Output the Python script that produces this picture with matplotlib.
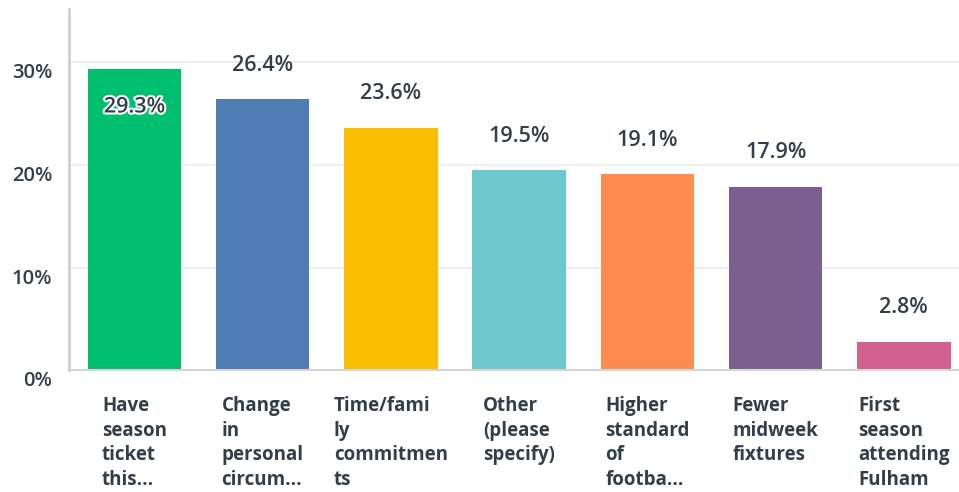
import matplotlib.pyplot as plt
import matplotlib.patheffects as pe
import matplotlib.transforms as mtransforms
import numpy as np

categories = ["Have\nseason\nticket\nthis...", "Change\nin\npersonal\ncircum...",
              "Time/fami\nly\ncommitmen\nts", "Other\n(please\nspecify)",
              "Higher\nstandard\nof\nfootba...", "Fewer\nmidweek\nfixtures",
              "First\nseason\nattending\nFulham"]
values = [29.3, 26.4, 23.6, 19.5, 19.1, 17.9, 2.8]
colors = ["#00BF6F", "#507CB6", "#F9BE00", "#6BC8CD", "#FF8B4F", "#7D5E90", "#D25F90"]
yticks = [0, 10, 20, 30]

text_col = "#333E48"
plt.rcParams['font.family'] = ['Open Sans', 'DejaVu Sans']

fig = plt.figure(figsize=(9.59, 4.92), dpi=100)
ax = fig.add_axes([0.072, 0.247, 0.928, 0.735])

x = np.arange(len(values))
ax.bar(x, values, width=0.73, color=colors, zorder=2)

ax.set_xlim(-0.51, 6.43)
ax.set_ylim(0, 35.2)
ax.set_yticks(yticks)
ax.set_yticklabels([f"{t}%" for t in yticks], fontsize=14.5, color=text_col,
                   fontweight="semibold")
ax.tick_params(axis='y', length=0, pad=12)
# tick labels sit a little below their gridlines in the original
shift = mtransforms.ScaledTranslation(0, -6 / 72, fig.dpi_scale_trans)
for lab in ax.get_yticklabels():
    lab.set_transform(lab.get_transform() + shift)
ax.set_xticks([])
ax.yaxis.grid(True, color="#EBEBEB", linewidth=1.2, zorder=0)

for s in ["top", "right"]:
    ax.spines[s].set_visible(False)
ax.spines["left"].set_color("#CFCFCF")
ax.spines["left"].set_linewidth(2)
ax.spines["bottom"].set_color("#D5D5D5")
ax.spines["bottom"].set_linewidth(1.5)

for xi, v in zip(x, values):
    if v > 28:
        ax.annotate(f"{v}%", (xi, v), xytext=(0, -27), textcoords="offset points",
                    ha="center", va="center", fontsize=15.5, color=text_col,
                    fontweight="semibold",
                    path_effects=[pe.withStroke(linewidth=3, foreground="white")])
    else:
        ax.annotate(f"{v}%", (xi, v), xytext=(0, 24.5), textcoords="offset points",
                    ha="center", va="center", fontsize=15.5, color=text_col,
                    fontweight="semibold")

for xi, lab in zip(x, categories):
    ax.annotate(lab, (xi, 0), xytext=(0, -18.5), textcoords="offset points",
                ha="center", va="top", multialignment="left", fontsize=13.5,
                fontweight="bold", color=text_col, linespacing=1.3,
                annotation_clip=False)

fig.savefig("out.png", dpi=100)
